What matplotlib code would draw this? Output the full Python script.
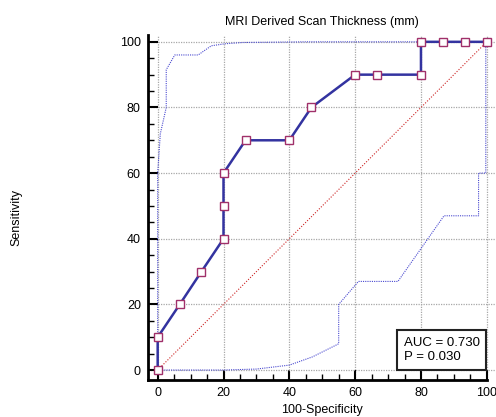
"""ROC curve for MRI derived scan thickness, with confidence bounds."""

import matplotlib
matplotlib.use("Agg")
import matplotlib.pyplot as plt
from matplotlib.ticker import MultipleLocator

plt.rcParams["font.family"] = ["Liberation Sans", "DejaVu Sans"]
plt.rcParams["font.size"] = 9

# ROC points (100-Specificity, Sensitivity)
roc_x = [0, 0, 6.7, 13.3, 20, 20, 20, 26.7, 40, 46.7, 60, 66.7, 80, 80, 86.7, 93.3, 100]
roc_y = [0, 10, 20, 30, 40, 50, 60, 70, 70, 80, 90, 90, 90, 100, 100, 100, 100]

# upper confidence bound
upper_x = [0, 0, 0.8, 2.6, 2.6, 5.2, 12.3, 16.3, 20.4, 25.8, 45, 100]
upper_y = [0, 60, 72, 80, 91.5, 96, 96, 98.8, 99.4, 99.8, 100, 100]

# lower confidence bound
lower_x = [0, 20, 30, 40, 47, 52, 55, 55, 61, 73, 80, 87, 97.5, 97.5, 99.7, 99.7]
lower_y = [0, 0, 0.3, 1.5, 4, 6.5, 8, 20, 27, 27, 37, 47, 47, 60, 60, 100]

# reference diagonal
diag = [0, 100]

auc_text = "AUC = 0.730\nP = 0.030"

fig = plt.figure(figsize=(4.96, 4.17), dpi=100)
ax = fig.add_axes([0.298, 0.089, 0.702, 0.828])

ax.plot(diag, diag, color="#cc2222", linestyle=(0, (1, 1.5)), linewidth=0.8, zorder=2)
ax.plot(upper_x, upper_y, color="#4b4bd0", linestyle=(0, (1, 1)), linewidth=0.8, zorder=2)
ax.plot(lower_x, lower_y, color="#4b4bd0", linestyle=(0, (1, 1)), linewidth=0.8, zorder=2)
ax.plot(roc_x, roc_y, color="#3333a0", linewidth=1.8, marker="s", markersize=6,
        markerfacecolor="white", markeredgecolor="#a0306a", markeredgewidth=1.0, zorder=3)

ax.text(97.9, 2.0, auc_text, ha="right", va="bottom", multialignment="left",
        fontsize=9.5, linespacing=1.3,
        bbox=dict(boxstyle="square,pad=0.5", facecolor="white", edgecolor="#222222",
                  linewidth=1.5), zorder=4)

ax.set_xlim(-3, 102.8)
ax.set_ylim(-3, 102.2)
ax.xaxis.set_major_locator(MultipleLocator(20))
ax.yaxis.set_major_locator(MultipleLocator(20))
ax.xaxis.set_minor_locator(MultipleLocator(5))
ax.yaxis.set_minor_locator(MultipleLocator(5))
ax.tick_params(which="major", direction="in", length=7, width=1.5, pad=5)
ax.tick_params(which="minor", direction="in", length=4, width=1)

ax.grid(True, which="major", color="#a8a8a8", linestyle=(0, (1, 1)), linewidth=0.9)
ax.set_axisbelow(True)

for side in ["top", "right"]:
    ax.spines[side].set_visible(False)
for side in ["left", "bottom"]:
    ax.spines[side].set_linewidth(2)
ax.spines["bottom"].set_bounds(-3, 100)

ax.set_title("MRI Derived Scan Thickness (mm)", fontsize=9, pad=7)
ax.set_xlabel("100-Specificity", fontsize=9)
ax.set_ylabel("Sensitivity", fontsize=9)
ax.yaxis.set_label_coords(-0.36, 0.47)
ax.xaxis.set_label_coords(0.5, -0.07)

fig.savefig("out.png", dpi=100)
